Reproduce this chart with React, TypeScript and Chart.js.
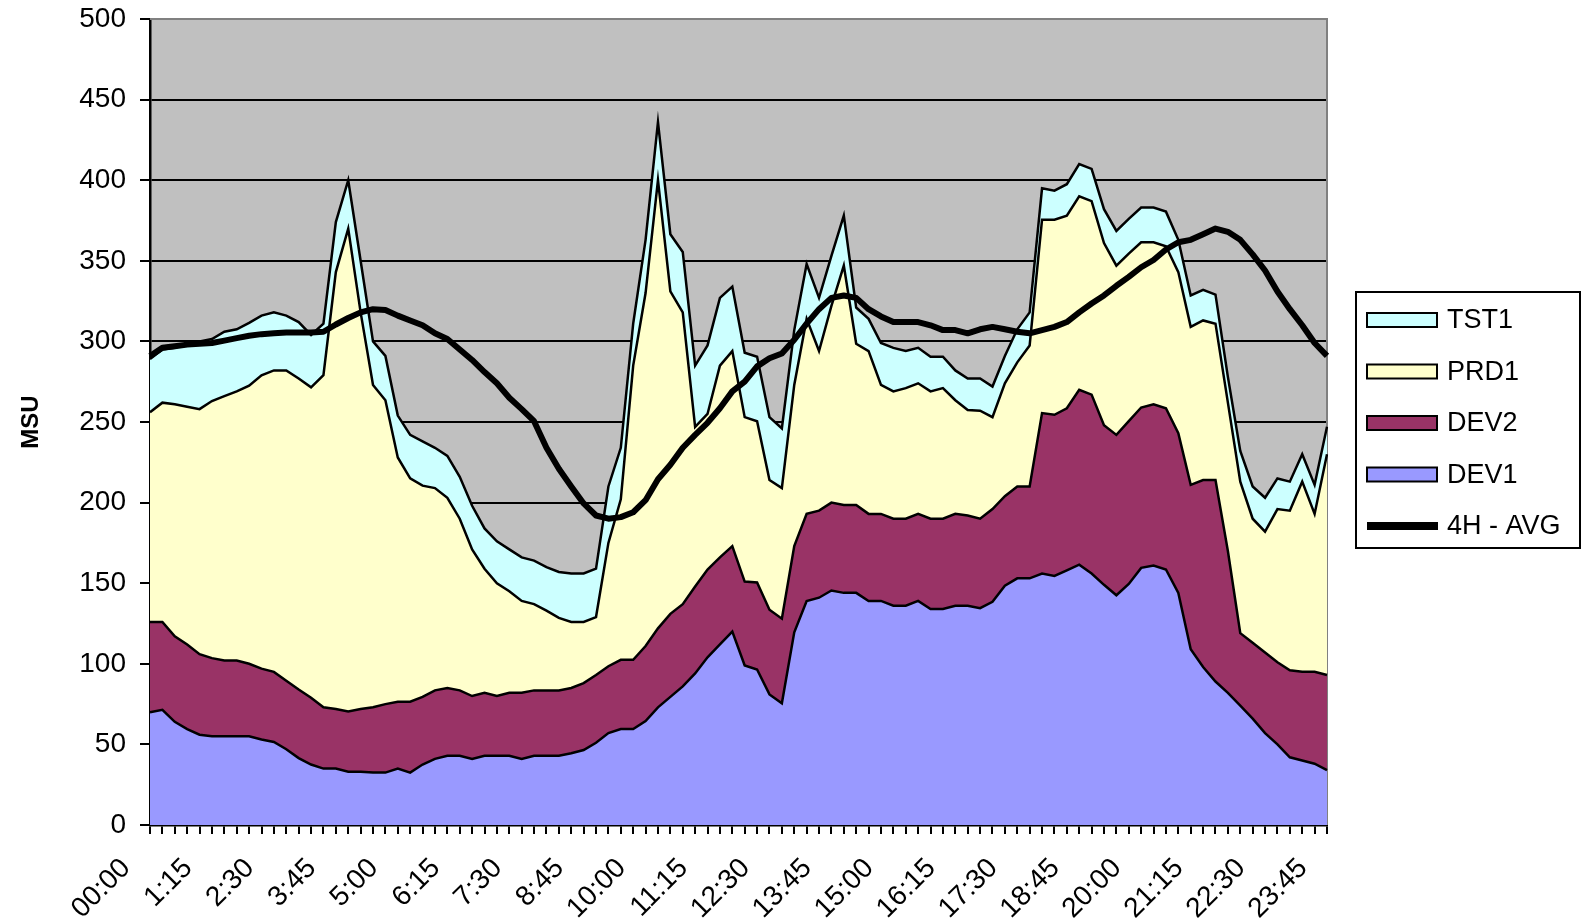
import React, { useEffect, useRef } from 'react';
import { Chart, registerables } from 'chart.js';

Chart.register(...registerables);

const TIME_LABELS = [
  '00:00', '0:15', '0:30', '0:45', '1:00', '1:15', '1:30', '1:45',
  '2:00', '2:15', '2:30', '2:45', '3:00', '3:15', '3:30', '3:45',
  '4:00', '4:15', '4:30', '4:45', '5:00', '5:15', '5:30', '5:45',
  '6:00', '6:15', '6:30', '6:45', '7:00', '7:15', '7:30', '7:45',
  '8:00', '8:15', '8:30', '8:45', '9:00', '9:15', '9:30', '9:45',
  '10:00', '10:15', '10:30', '10:45', '11:00', '11:15', '11:30', '11:45',
  '12:00', '12:15', '12:30', '12:45', '13:00', '13:15', '13:30', '13:45',
  '14:00', '14:15', '14:30', '14:45', '15:00', '15:15', '15:30', '15:45',
  '16:00', '16:15', '16:30', '16:45', '17:00', '17:15', '17:30', '17:45',
  '18:00', '18:15', '18:30', '18:45', '19:00', '19:15', '19:30', '19:45',
  '20:00', '20:15', '20:30', '20:45', '21:00', '21:15', '21:30', '21:45',
  '22:00', '22:15', '22:30', '22:45', '23:00', '23:15', '23:30', '23:45',
];

const DEV1 = [
  70, 71.5, 64, 59.5, 56, 55, 55, 55, 55, 53,
  51.5, 47, 41.5, 37.5, 35, 35, 33, 33, 32.5, 32.5,
  35, 32.5, 37.5, 41, 43, 43, 41, 43, 43, 43,
  41, 43, 43, 43, 44.5, 46.5, 51, 57, 59.5, 59.5,
  64.5, 73, 79.5, 86, 94, 104, 112, 120, 99, 96.5,
  81, 75.5, 119.5, 139, 141, 145.5, 144, 144, 139, 139,
  136, 136, 139, 134, 134, 136, 136, 134.5, 138.5, 148.5,
  153, 153, 156, 154.5, 158, 161.5, 156, 149, 142.5, 149.5,
  159.5, 161, 158.5, 144, 109, 98, 89, 82, 74, 66,
  57, 50, 42, 40, 38, 34,
];

const DEV2 = [
  56, 54.5, 53, 52.5, 50, 48.5, 47, 47, 45, 44,
  43.5, 42.5, 42.5, 41.5, 38, 37, 37.5, 39, 40.5, 42.5,
  41.5, 44, 42, 42.5, 42, 40.5, 39, 39, 37, 39,
  41, 40.5, 40.5, 40.5, 40.5, 41.5, 42, 41.5, 43, 43,
  46.5, 49, 51.5, 51, 54, 54.5, 54, 53, 52, 54,
  52.5, 52.5, 53.5, 54, 54, 54.5, 54.5, 54.5, 54, 54,
  54, 54, 54, 56, 56, 57, 56, 55.5, 57.5, 55.5,
  57, 57, 99.5, 100, 100.5, 108.5, 111, 99, 99.5, 101,
  99.5, 100, 100, 99, 102, 116, 125, 88, 45, 47,
  50, 51, 54, 55, 57, 59,
];

const PRD1 = [
  130, 136, 144, 147.5, 152, 159.5, 164, 167, 172.5, 182,
  187, 192.5, 193, 192.5, 206, 271, 299.5, 246, 200, 188.5,
  151.5, 138.5, 131, 125.5, 118, 106.5, 91, 77, 70, 63,
  57, 53.5, 49.5, 45, 41, 38, 36, 76.5, 99.5, 182.5,
  219, 278, 200, 181, 99, 96.5, 119, 121, 102, 100,
  80.5, 81, 100, 121, 99, 122, 148.5, 100, 101, 80,
  79, 81, 81, 79, 81, 70.5, 65.5, 67, 57, 70,
  77, 87.5, 120, 121, 119.5, 120, 120, 113, 105, 104,
  102.5, 100.5, 100.5, 100, 98, 99, 97, 92, 94, 77,
  75, 95, 99, 118, 98, 137,
];

const TST1 = [
  33, 33, 35, 39, 42, 38.5, 40, 38.5, 39, 37,
  36, 34, 35, 32.5, 32, 31, 30, 32, 27, 27.5,
  26, 27, 27.5, 25, 26, 26, 27, 25, 26, 26,
  27, 27, 27, 28.5, 30, 30, 30, 35, 32, 26,
  33, 36, 35.5, 37.5, 38, 42.5, 42, 40, 40, 40,
  39, 37, 34, 34, 33, 31, 31, 22.5, 20, 26,
  27, 23, 22, 21.5, 19.5, 18.5, 19.5, 20, 19, 17,
  20.5, 20.5, 19.5, 18, 19.5, 20, 20, 21, 21.5, 21.5,
  21.5, 21.5, 21.5, 20, 19.5, 19, 18, 16, 19, 20,
  21, 19, 18, 17, 18, 17,
];

const AVG_4H = [
  291, 296, 297, 298, 298.5, 299, 300.5, 302, 303.5, 304.5,
  305, 305.5, 305.5, 305.5, 306, 310.5, 314.5, 318, 320, 319.5,
  316, 313, 310, 305, 301.5, 295, 288.5, 281, 274, 265,
  258, 250.5, 234, 221, 210, 199.5, 192, 190, 191, 194,
  201.5, 214.5, 223.5, 234, 242, 249.5, 258.5, 269, 275, 284.5,
  289.5, 292.5, 301, 311, 320, 327, 328.5, 327, 320, 315.5,
  312, 312, 312, 310, 307, 307, 305, 307.5, 309, 307.5,
  306, 305, 307, 309, 312, 318, 323.5, 328.5, 334.5, 340,
  346, 350.5, 357, 361.5, 363, 366.5, 370, 368, 363, 354,
  344, 331, 320, 310, 299, 291,
];

const SERIES_NAMES = ['DEV1', 'DEV2', 'PRD1', 'TST1', '4H - AVG'];
const SERIES_COLORS = ['#9999FF', '#993366', '#FFFFCC', '#CCFFFF', '#000000'];
const LEGEND_ORDER = ['TST1', 'PRD1', 'DEV2', 'DEV1', '4H - AVG'];

const FONT = '"Liberation Sans", Arial, Helvetica, sans-serif';

const plotBackground = {
  id: 'plotBackground',
  beforeDraw(chart: any) {
    const { ctx, chartArea: a } = chart;
    ctx.save();
    ctx.fillStyle = '#C0C0C0';
    ctx.fillRect(a.left, a.top, a.right - a.left, a.bottom - a.top);
    ctx.restore();
  },
  beforeDatasetsDraw(chart: any) {
    const { ctx, chartArea: a } = chart;
    ctx.save();
    ctx.strokeStyle = '#808080';
    ctx.lineWidth = 2;
    ctx.beginPath();
    ctx.moveTo(a.left, a.top);
    ctx.lineTo(a.right, a.top);
    ctx.lineTo(a.right, a.bottom);
    ctx.stroke();
    ctx.restore();
  },
};

const boxLegend = {
  id: 'boxLegend',
  afterDraw(chart: any) {
    const { ctx } = chart;
    const bx = 1356;
    const by = 292;
    const bw = 224;
    const bh = 256;
    ctx.save();
    ctx.fillStyle = '#FFFFFF';
    ctx.fillRect(bx, by, bw, bh);
    ctx.strokeStyle = '#000000';
    ctx.lineWidth = 2;
    ctx.strokeRect(bx, by, bw, bh);
    ctx.font = `27px ${FONT}`;
    ctx.textBaseline = 'middle';
    ctx.textAlign = 'left';
    LEGEND_ORDER.forEach((name, i) => {
      const ds = chart.data.datasets.find((d: any) => d.label === name);
      const cy = by + 28 + i * 51.5;
      if (!ds.fill) {
        ctx.strokeStyle = '#000000';
        ctx.lineWidth = 8;
        ctx.beginPath();
        ctx.moveTo(bx + 11, cy);
        ctx.lineTo(bx + 82, cy);
        ctx.stroke();
      } else {
        ctx.fillStyle = ds.backgroundColor;
        ctx.fillRect(bx + 11, cy - 7, 70, 14);
        ctx.strokeStyle = '#000000';
        ctx.lineWidth = 2;
        ctx.strokeRect(bx + 11, cy - 7, 70, 14);
      }
      ctx.fillStyle = '#000000';
      ctx.fillText(name, bx + 91, cy + 1);
    });
    ctx.restore();
  },
};

export default function App() {
  const canvasRef = useRef<HTMLCanvasElement | null>(null);

  useEffect(() => {
    const canvas = canvasRef.current;
    if (!canvas) return;
    Chart.defaults.font.family = FONT;
    Chart.defaults.color = '#000000';

    const areaValues = [DEV1, DEV2, PRD1, TST1];
    const areaSets = areaValues.map((vals, i) => ({
      type: 'line' as const,
      label: SERIES_NAMES[i],
      data: vals,
      stack: 'msu',
      fill: i === 0 ? 'origin' : '-1',
      backgroundColor: SERIES_COLORS[i],
      borderColor: '#000000',
      borderWidth: 2.5,
      pointRadius: 0,
      tension: 0,
    }));

    const chart = new Chart(canvas, {
      type: 'line',
      data: {
        labels: TIME_LABELS,
        datasets: [
          {
            type: 'line',
            label: SERIES_NAMES[4],
            data: AVG_4H,
            stack: 'avg',
            fill: false,
            borderColor: SERIES_COLORS[4],
            backgroundColor: SERIES_COLORS[4],
            borderWidth: 6,
            pointRadius: 0,
            tension: 0,
            borderJoinStyle: 'round',
          } as any,
          ...areaSets,
        ],
      },
      options: {
        responsive: false,
        devicePixelRatio: 1,
        animation: false,
        events: [],
        layout: { padding: { top: 19, right: 258, left: 0, bottom: 0 } },
        plugins: {
          legend: { display: false },
          tooltip: { enabled: false },
        },
        scales: {
          x: {
            type: 'category',
            offset: false,
            afterFit: (scale: any) => {
              scale.height = 98;
            },
            grid: {
              drawOnChartArea: false,
              drawTicks: true,
              tickLength: 9,
              color: '#000000',
              lineWidth: 2,
            },
            border: { color: '#000000', width: 2.5 },
            ticks: {
              autoSkip: false,
              minRotation: 45,
              maxRotation: 45,
              font: { size: 28 },
              color: '#000000',
              padding: 18,
              labelOffset: -24,
              callback: (_v: any, idx: number) => (idx % 5 === 0 ? TIME_LABELS[idx] : ''),
            },
          },
          y: {
            stacked: true,
            min: 0,
            max: 500,
            afterFit: (scale: any) => {
              scale.width = 150;
              scale.paddingTop = 0;
              scale.paddingBottom = 0;
            },
            grid: {
              color: (c: any) => (c.tick && c.tick.value === 500 ? '#808080' : '#000000'),
              tickColor: '#000000',
              lineWidth: 2,
              tickLength: 10,
            },
            border: { color: '#000000', width: 2.5 },
            ticks: {
              stepSize: 50,
              font: { size: 28 },
              color: '#000000',
              padding: 14,
            },
            title: {
              display: true,
              text: 'MSU',
              font: { size: 24, weight: 'bold' },
              color: '#000000',
              padding: { top: 17, bottom: 0 },
            },
          },
        },
      },
      plugins: [plotBackground, boxLegend],
    });

    return () => {
      chart.destroy();
    };
  }, []);

  return (
    <div style={{ position: 'absolute', left: 0, top: 0, width: 1585, height: 923, background: '#FFFFFF' }}>
      <canvas ref={canvasRef} width={1585} height={923} style={{ display: 'block' }} />
    </div>
  );
}
